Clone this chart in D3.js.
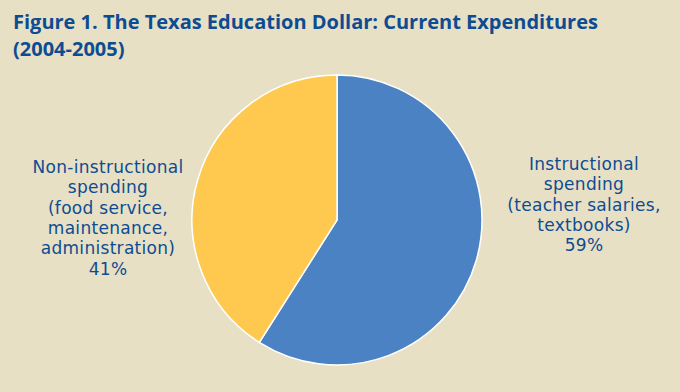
<!DOCTYPE html>
<html>
<head>
<meta charset="utf-8">
<script src="https://cdn.jsdelivr.net/npm/d3@7"></script>
<style>
  html, body { margin: 0; padding: 0; background: #E7E0C5; }
  svg { display: block; }
</style>
</head>
<body>
<svg id="chart" width="680" height="392"></svg>
<script>
// Shares of current expenditures
const categories = ["Instructional", "Non-instructional"];
const shares = [59, 41];
const labelLines = [
  ["Instructional", "spending", "(teacher salaries,", "textbooks)", "59%"],
  ["Non-instructional", "spending", "(food service,", "maintenance,", "administration)", "41%"]
];
const titleLines = [
  "Figure 1. The Texas Education Dollar: Current Expenditures",
  "(2004-2005)"
];

const width = 680, height = 392;
const textColor = "#0E4C92";
const colors = d3.scaleOrdinal().domain(categories).range(["#4A82C3", "#FFC84E"]);

const svg = d3.select("#chart");
svg.append("rect").attr("width", width).attr("height", height).attr("fill", "#E7E0C5");

// Title
svg.append("g")
  .selectAll("text")
  .data(titleLines)
  .join("text")
  .attr("x", 13)
  .attr("y", (d, i) => 29 + i * 27)
  .attr("font-family", "'Open Sans', sans-serif")
  .attr("font-weight", 700)
  .attr("font-size", 20)
  .attr("fill", textColor)
  .text(d => d);

// Pie
const cx = 337, cy = 220, r = 145;
const pie = d3.pie().sort(null).value(d => d.value);
const arcs = pie(categories.map((c, i) => ({ name: c, value: shares[i] })));
const arc = d3.arc().innerRadius(0).outerRadius(r);

svg.append("g")
  .attr("transform", `translate(${cx},${cy})`)
  .selectAll("path")
  .data(arcs)
  .join("path")
  .attr("d", arc)
  .attr("fill", d => colors(d.data.name))
  .attr("stroke", "#FFFFFF")
  .attr("stroke-width", 1.5);

// Category labels
const labelPos = [
  { x: 584, y: 170 },
  { x: 108, y: 173 }
];
labelLines.forEach((lines, k) => {
  svg.append("text")
    .attr("text-anchor", "middle")
    .attr("font-family", "'DejaVu Sans', sans-serif")
    .attr("font-size", 17)
    .attr("letter-spacing", 0.3)
    .attr("fill", textColor)
    .selectAll("tspan")
    .data(lines)
    .join("tspan")
    .attr("x", labelPos[k].x)
    .attr("y", (d, i) => labelPos[k].y + i * 20.3)
    .text(d => d);
});
</script>
</body>
</html>
